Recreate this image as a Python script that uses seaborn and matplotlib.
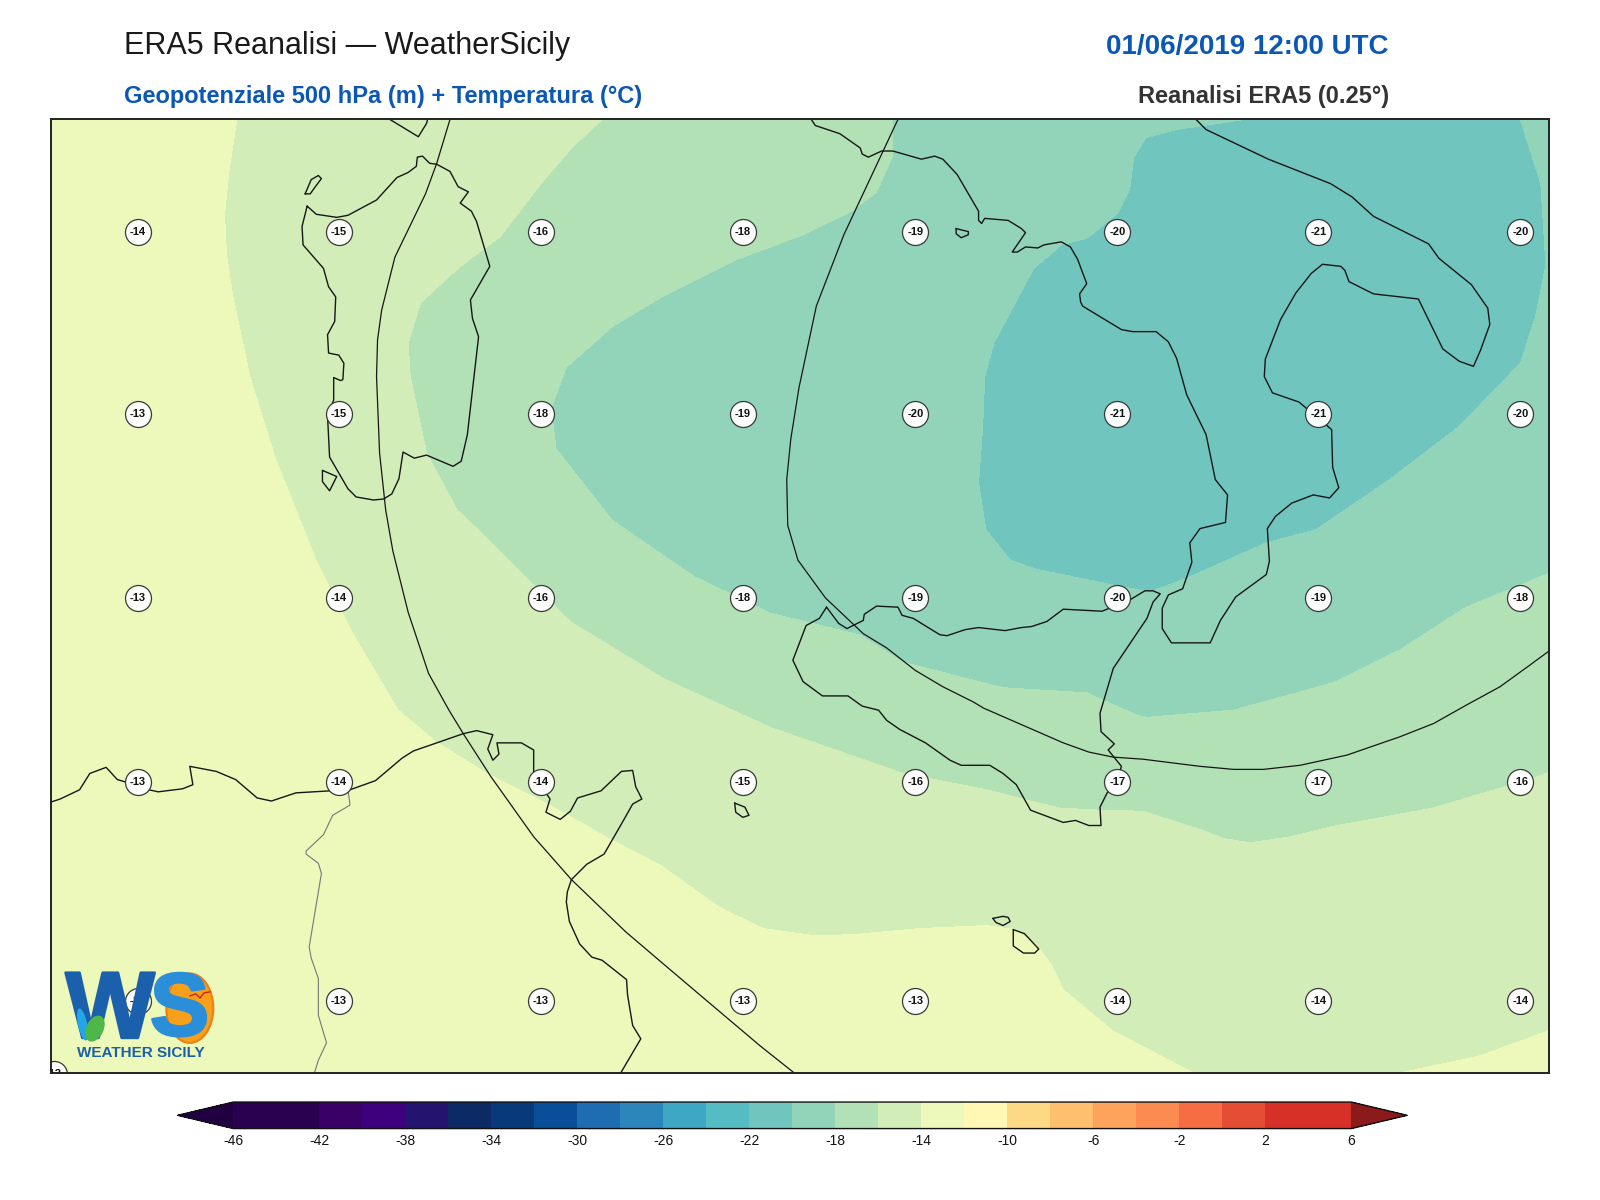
import numpy as np
import pandas as pd
import matplotlib
matplotlib.use("Agg")
import matplotlib.pyplot as plt
import matplotlib.tri as mtri
import matplotlib.patheffects as pe
from matplotlib.colors import ListedColormap, BoundaryNorm
from matplotlib.patches import Ellipse
import seaborn as sns

# ---------- Temperature field samples (map units) ----------
iso14a_x = [232,224,220,222,228,245,270,310,345,390,427,477,535,597,647,706,748,797,836,902,967,993,1016,1031,1042,1090,1170]
iso14a_y = [117,170,210,250,290,370,450,550,620,696,727,758,787,822,848,890,910,917,916,910,907,911,926,947,970,1010,1052]
iso14b_x = [1370,1450,1518]
iso14b_y = [1052,1035,1010]
iso16_x = [590,560,530,490,450,412,400,402,418,448,480,560,650,755,885,967,1002,1039,1078,1120,1176,1200,1225,1265,1306,1404,1499,1518]
iso16_y = [117,145,180,232,262,297,336,369,444,500,530,610,665,713,758,774,783,792,794,795,813,822,826,820,810,792,764,757]
iso18_x = [875,875,859,836,787,720,650,600,555,540,545,600,680,755,885,983,1065,1114,1124,1209,1307,1372,1437,1518]
iso18_y = [117,152,188,206,230,255,290,320,360,400,440,510,565,601,649,674,679,701,703,696,669,637,595,562]
iso20_x = [1220,1152,1123,1111,1107,1095,1066,1040,1013,974,965,963,959,966,990,1016,1060,1094,1127,1160,1241,1290,1362,1430,1490,1505,1515,1510,1490]
iso20_y = [117,127,135,154,186,209,233,240,263,336,369,418,473,519,549,558,567,574,580,568,532,519,470,418,356,310,260,180,117]

warm_x = [50,50,50,50,135,135,135,332,332,530,728,897,600,800,1000]
warm_y = [117,350,585,1052,227,586,981,981,766,981,981,981,1052,1052,1052]
warm_t = [-12.7,-12.5,-12.4,-12.2,-13.3,-12.9,-12.5,-12.6,-13.0,-12.7,-13.2,-13.4,-12.7,-12.9,-13.4]
band16_x = [332,332,728,897,1095,1292,1292,1095,1490,1490,1270,1518,1518,240,800,880]
band16_y = [227,406,766,860,900,900,981,981,900,981,1052,880,1052,210,895,890]
band16_t = [-14.6,-15.0,-15.1,-14.7,-15.0,-15.2,-14.6,-14.2,-15.1,-14.2,-14.3,-15.0,-13.8,-14.3,-14.3,-14.4]
band18_x = [480,450,530,640,800,1000,1100,1292,1490,700,620,780,1518,425,840,1225,1120,1300]
band18_y = [300,400,500,600,650,720,745,766,700,200,150,150,660,350,170,800,775,790]
band18_t = [-16.6,-16.7,-16.9,-17.0,-17.0,-17.0,-17.0,-16.7,-16.8,-17.0,-16.3,-17.2,-17.0,-16.4,-17.7,-16.3,-16.2,-16.3]
band20_x = [728,897,897,1000,1000,1095,728,897,1095,1292,1440,1510,1518,1518,1518,565,900,1124,1209,1090,1060]
band20_y = [406,406,227,200,117,120,500,586,630,586,500,400,117,350,450,400,150,680,675,170,215]
band20_t = [-19.0,-19.5,-18.8,-18.9,-18.6,-19.0,-18.9,-19.3,-19.3,-19.0,-19.0,-19.5,-19.7,-19.6,-19.0,-18.4,-18.3,-18.4,-18.4,-19.7,-19.7]
band22_x = [1095,1292,1292,1095,1050,1400,1400,1200,1300,1420,985,1094,1490,1480,1130]
band22_y = [406,406,227,300,500,200,350,520,117,117,470,550,260,180,160]
band22_t = [-21.2,-21.3,-21.2,-20.9,-20.8,-21.0,-20.8,-20.4,-20.6,-20.5,-20.3,-20.3,-20.3,-20.3,-20.3]

levels = list(range(-46, 8, 2))
band_colors = ["#2a0050","#2a0050","#3a0068","#3f007d","#25146f","#0c2a66","#083a7a","#084e98",
               "#1e6db2","#2c85bb","#3ea8c4","#54bcc2","#70c6be","#92d4b9","#b2e1b6","#d2edb8",
               "#edf8bb","#fff7b3","#fed985","#febf6f","#fea35c","#fb8b50","#f66d44","#e64d35",
               "#d73027","#d73027"]
under_color = "#200040"
over_color = "#8b1a1a"
cbar_ticks = list(range(-46, 8, 4))

# ---------- Station values ----------
station_x = [135,332,530,728,897,1095,1292,1490]
station_y = [227,406,586,766,981]
station_t = [[-14,-15,-16,-18,-19,-20,-21,-20],
             [-13,-15,-18,-19,-20,-21,-21,-20],
             [-13,-14,-16,-18,-19,-20,-19,-18],
             [-13,-14,-14,-15,-16,-17,-17,-16],
             [-13,-13,-13,-13,-13,-14,-14,-14]]
corner_station = (53, 1053, -13)

# ---------- Coastlines and boundaries ----------
sardinia = [(301,202),(310,210),(330,213),(341,211),(369,196),(389,174),(400,169),(408,163),(409,154),(414,153),(421,160),(428,161),(441,168),(449,183),(459,188),(451,199),(462,207),(467,217),(480,261),(461,294),(463,312),(469,330),(458,426),(452,452),(444,457),(418,446),(406,449),(395,443),(391,469),(384,484),(376,489),(366,490),(349,487),(341,479),(323,448),(321,408),(327,392),(327,370),(334,373),(336,372),(337,356),(332,348),(322,346),(321,328),(328,315),(329,291),(322,281),(317,263),(297,240),(296,222),(301,202)]
asinara = [(299,190),(305,176),(312,172),(315,175),(309,183),(304,190),(299,190)]
san_pietro = [(316,461),(330,467),(323,481),(316,472),(316,461)]
corsica = [(382,117),(410,134),(418,121),(419,117)]
sicily = [(810,595),(803,606),(790,613),(777,647),(787,668),(806,682),(831,682),(845,692),(861,696),(869,706),(882,715),(907,728),(931,745),(942,750),(970,750),(983,758),(996,769),(1010,794),(1042,806),(1054,804),(1067,809),(1079,809),(1078,791),(1085,777),(1094,768),(1099,751),(1086,735),(1092,729),(1079,717),(1078,699),(1091,655),(1124,606),(1130,590),(1137,582),(1130,579),(1122,579),(1107,588),(1080,599),(1042,597),(1026,609),(1011,614),(1001,615),(985,618),(959,615),(946,617),(928,623),(921,622),(895,606),(884,603),(880,595),(859,594),(847,602),(846,608),(830,616),(822,611),(810,595)]
italy = [(795,117),(799,123),(823,131),(843,145),(845,151),(851,154),(864,148),(875,148),(903,156),(916,153),(924,156),(938,171),(959,207),(959,216),(962,219),(965,214),(988,216),(1001,224),(1005,228),(992,247),(997,247),(1005,242),(1017,243),(1023,240),(1040,237),(1049,242),(1056,254),(1065,278),(1058,288),(1059,296),(1061,300),(1099,323),(1110,325),(1133,325),(1145,335),(1153,351),(1163,387),(1182,426),(1191,470),(1203,485),(1201,512),(1176,518),(1166,532),(1168,551),(1159,577),(1145,583),(1139,596),(1139,616),(1148,630),(1186,630),(1196,608),(1211,585),(1241,563),(1244,550),(1242,518),(1250,506),(1266,493),(1287,485),(1303,488),(1312,478),(1306,458),(1305,421),(1298,415),(1273,394),(1247,385),(1239,369),(1240,352),(1255,313),(1270,287),(1285,268),(1296,259),(1314,261),(1318,265),(1322,276),(1346,288),(1390,293),(1414,342),(1430,354),(1444,359),(1451,343),(1460,318),(1458,302),(1442,279),(1410,253),(1400,239),(1346,212),(1325,193),(1304,180),(1243,156),(1182,127),(1172,117)]
tremiti = [(937,224),(949,227),(949,230),(942,233),(937,229),(937,224)]
pantelleria = [(720,787),(730,791),(734,799),(728,801),(721,796),(720,787)]
gozo = [(973,900),(983,898),(988,899),(990,903),(983,907),(976,904),(973,900)]
malta = [(993,911),(1004,915),(1018,930),(1014,934),(1003,934),(993,927),(993,911)]
africa = [(50,786),(59,783),(78,774),(88,758),(104,752),(115,764),(122,766),(146,774),(155,776),(179,773),(189,769),(186,751),(212,756),(231,764),(252,782),(266,785),(290,777),(324,775),(343,774),(368,765),(394,743),(405,736),(454,719),(467,716),(483,720),(478,734),(483,745),(489,739),(487,728),(511,728),(523,735),(523,756),(535,777),(539,783),(535,796),(549,803),(559,795),(566,782),(589,775),(609,756),(620,755),(623,771),(629,783),(620,788),(611,804),(592,837),(575,847),(560,862),(556,874),(555,884),(558,903),(568,925),(580,938),(590,941),(614,960),(615,975),(620,1005),(628,1018),(608,1052)]
border = [(341,774),(343,789),(326,799),(317,818),(300,834),(300,837),(312,846),(315,856),(303,928),(305,939),(312,959),(312,995),(320,1022),(312,1039),(308,1052)]
curve_a = [(441,117),(428,160),(417,190),(387,252),(374,304),(370,333),(369,369),(372,444),(378,500),(385,540),(400,600),(420,660),(440,696),(454,719),(481,761),(523,820),(560,862),(613,913),(647,942),(680,970),(745,1025),(779,1052)]
curve_b = [(880,117),(827,230),(800,300),(783,380),(775,430),(771,470),(772,515),(782,549),(809,586),(846,621),(869,635),(897,657),(924,673),(954,688),(964,694),(1042,728),(1067,737),(1091,742),(1120,744),(1176,751),(1209,754),(1238,754),(1274,750),(1320,740),(1372,722),(1405,709),(1437,691),(1470,673),(1499,652),(1518,638)]

title_left = "ERA5 Reanalisi \u2014 WeatherSicily"
title_right = "01/06/2019 12:00 UTC"
sub_left = "Geopotenziale 500 hPa (m) + Temperatura (\u00b0C)"
sub_right = "Reanalisi ERA5 (0.25\u00b0)"

# ---------- Figure ----------
sns.set_theme(style="white")
plt.rcParams["font.family"] = ["Liberation Sans", "DejaVu Sans"]
plt.rcParams["axes.unicode_minus"] = False

W, H = 1568.0, 1176.0
fig = plt.figure(figsize=(16, 12), dpi=100, facecolor="white")
ax = fig.add_axes([50/W, 1-1052/H, 1468/W, 935/H])

xs = np.array(iso14a_x+iso14b_x+iso16_x+iso18_x+iso20_x+warm_x+band16_x+band18_x+band20_x+band22_x, float)
ys = np.array(iso14a_y+iso14b_y+iso16_y+iso18_y+iso20_y+warm_y+band16_y+band18_y+band20_y+band22_y, float)
ts = np.array([-14.0]*(len(iso14a_x)+len(iso14b_x))+[-16.0]*len(iso16_x)+[-18.0]*len(iso18_x)+[-20.0]*len(iso20_x)
              +warm_t+band16_t+band18_t+band20_t+band22_t, float)
tri = mtri.Triangulation(xs, ys)

cmap = ListedColormap(band_colors)
cmap.set_under(under_color)
cmap.set_over(over_color)
norm = BoundaryNorm(levels, cmap.N)
cf = ax.tricontourf(tri, ts, levels=levels, cmap=cmap, norm=norm, extend="both", zorder=1)

for line in [sardinia, asinara, san_pietro, corsica, sicily, italy, tremiti, pantelleria, gozo, malta, africa]:
    lx, ly = zip(*line)
    ax.plot(lx, ly, color="#161616", lw=1.0, zorder=3)
for line in [curve_a, curve_b]:
    lx, ly = zip(*line)
    ax.plot(lx, ly, color="#161616", lw=0.9, zorder=3)
lx, ly = zip(*border)
ax.plot(lx, ly, color="#777777", lw=0.8, zorder=3)

# stations
rows = []
for yy, vals in zip(station_y, station_t):
    for xx, v in zip(station_x, vals):
        rows.append((xx, yy, v))
rows.append(corner_station)
df = pd.DataFrame(rows, columns=["x", "y", "t"])
sns.scatterplot(data=df, x="x", y="y", ax=ax, s=350, color="white", alpha=0.97,
                edgecolor="#333333", linewidth=0.9, legend=False, zorder=4)
for _, r in df.iterrows():
    ax.text(r.x, r.y, f"{int(r.t)}", ha="center", va="center", fontsize=8, fontweight="bold",
            color="#111111", zorder=5, clip_on=True)

ax.set_xlim(50, 1518)
ax.set_ylim(1052, 117)
ax.set_xlabel("")
ax.set_ylabel("")
ax.set_xticks([])
ax.set_yticks([])
for s in ax.spines.values():
    s.set_visible(True)
    s.set_color("#222222")
    s.set_linewidth(1.4)
    s.set_zorder(8)

# logo
ax.add_patch(Ellipse((186, 988), 46, 68, facecolor="#f9a01b", edgecolor="#ef7d12", lw=1.5, zorder=6))
ax.text(108, 993, "W", ha="center", va="center", fontsize=68, fontweight="bold", color="#1a60ad", zorder=7,
        path_effects=[pe.withStroke(linewidth=2.0, foreground="#1a60ad")])
ax.text(176, 992, "S", ha="center", va="center", fontsize=64, fontweight="bold", color="#2a8fd8", zorder=7,
        path_effects=[pe.withStroke(linewidth=2.0, foreground="#2a8fd8")])
ax.add_patch(Ellipse((81, 1004), 9, 32, angle=-12, facecolor="#22a7ea", edgecolor="none", zorder=8))
ax.add_patch(Ellipse((93, 1008), 17, 27, angle=25, facecolor="#4fb648", edgecolor="none", zorder=9))
ax.plot([186,192,196,200,206], [976,974,978,973,972], color="#c8281e", lw=1.0, zorder=8)
ax.text(138, 1032, "WEATHER SICILY", ha="center", va="center", fontsize=11, fontweight="bold",
        color="#1a5fa8", zorder=7)

# titles
fig.text(122/W, 1-45/H, title_left, fontsize=22, color="#1a1a1a", ha="left", va="center")
fig.text(1361/W, 1-46/H, title_right, fontsize=20, fontweight="bold", color="#0b57b5", ha="right", va="center")
fig.text(122/W, 1-95/H, sub_left, fontsize=17, fontweight="bold", color="#0b57b5", ha="left", va="center")
fig.text(1361/W, 1-95/H, sub_right, fontsize=17, fontweight="bold", color="#333333", ha="right", va="center")

# colour bar
cax = fig.add_axes([174/W, 1-1106/H, 1205/W, 26/H])
cb = fig.colorbar(cf, cax=cax, orientation="horizontal", extend="both", extendfrac=0.05,
                  spacing="uniform", ticks=cbar_ticks, drawedges=False)
cb.ax.minorticks_off()
cb.ax.tick_params(which="both", length=0, labelsize=10, pad=4, colors="#111111")
cb.outline.set_linewidth(1.0)
cb.outline.set_edgecolor("#111111")

fig.savefig("out.png", dpi=100, facecolor="white")
